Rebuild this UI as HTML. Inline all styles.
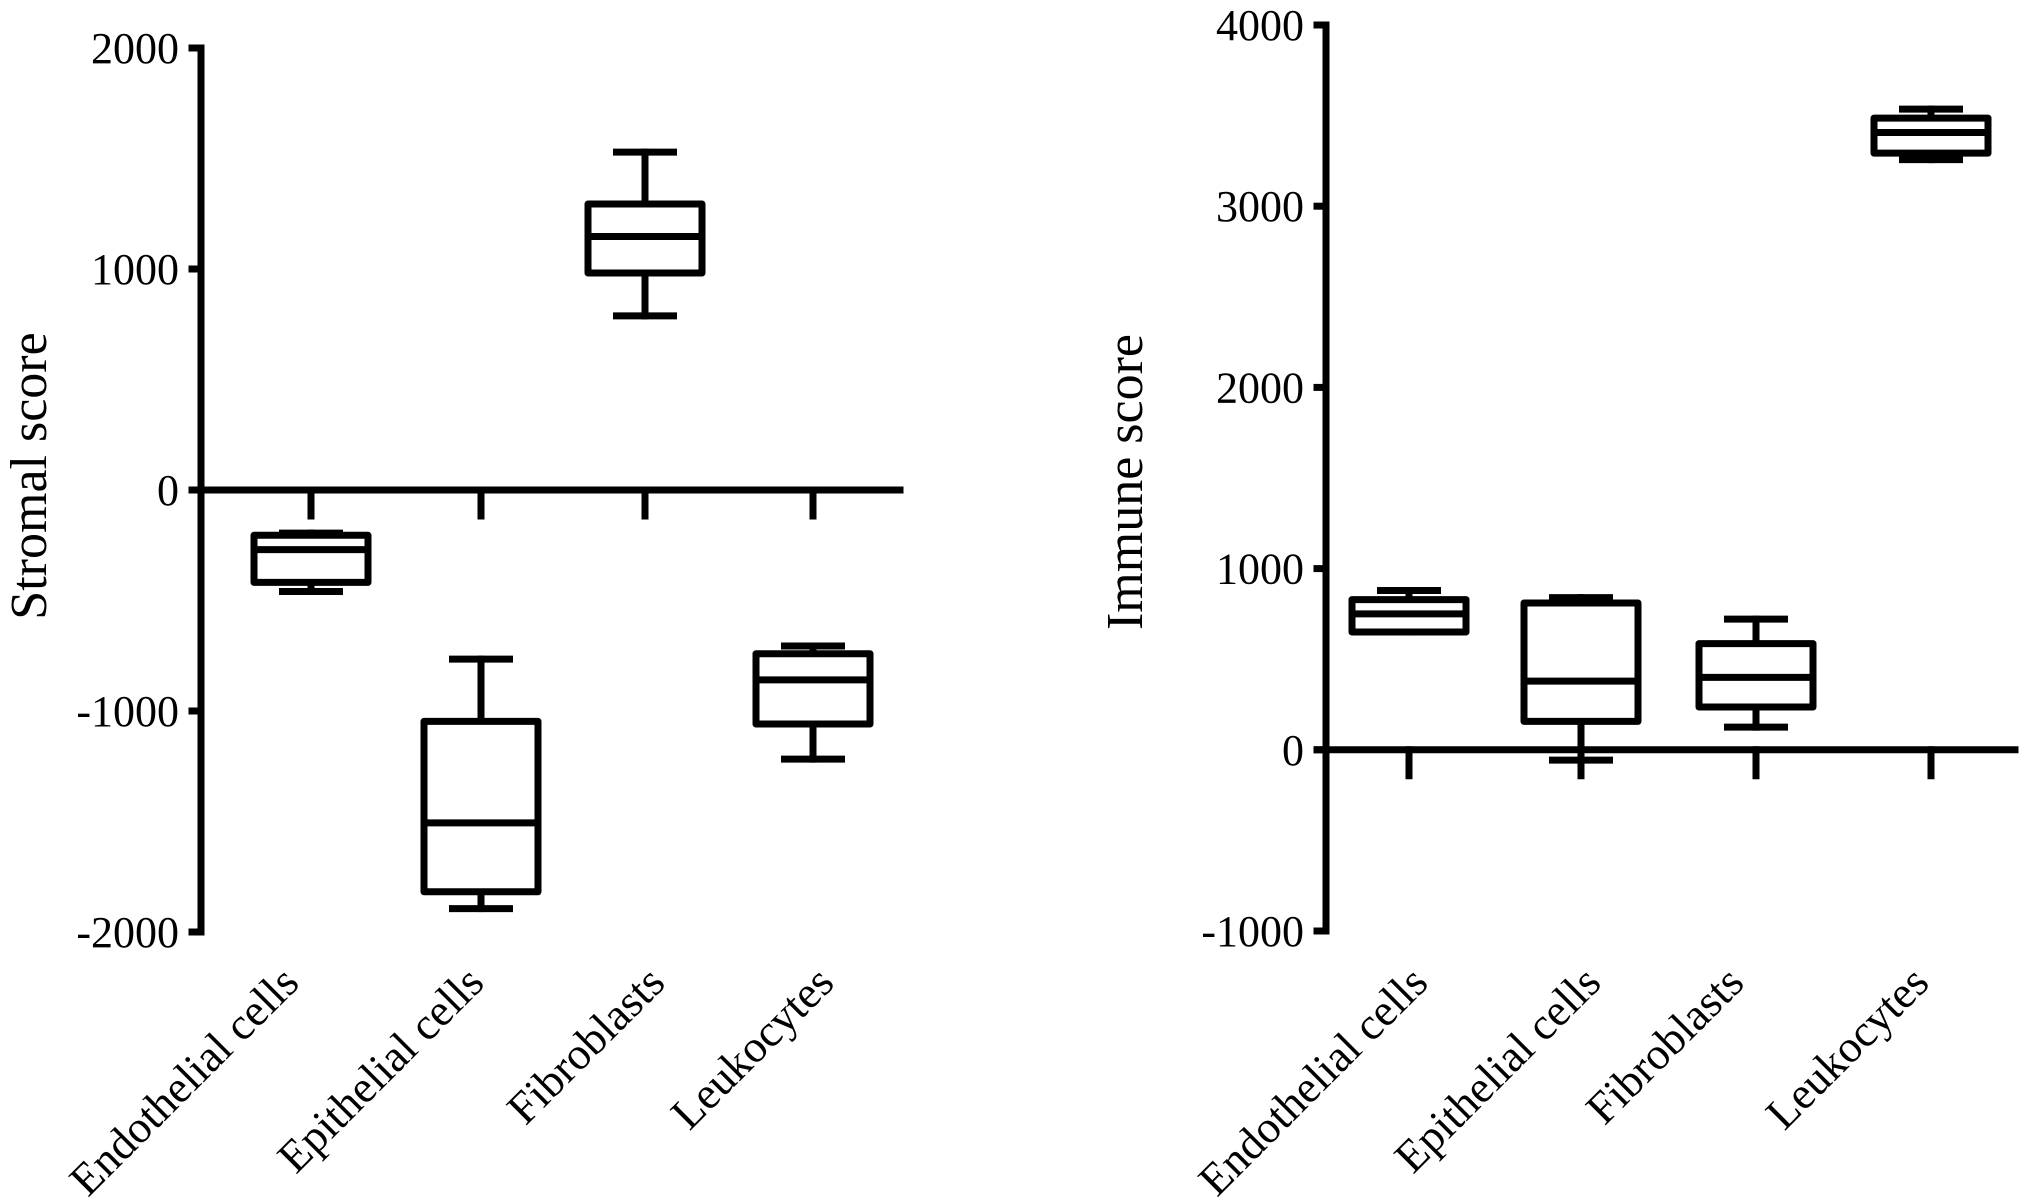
<!DOCTYPE html>
<html><head><meta charset="utf-8"><style>
html,body{margin:0;padding:0;background:#fff;}
svg{display:block;}
text{font-family:"Liberation Serif",serif;fill:#000;}
</style></head><body>
<svg id="chart" width="2031" height="1202" viewBox="0 0 2031 1202" xmlns="http://www.w3.org/2000/svg"></svg>
<script>
const categories = ["Endothelial cells","Epithelial cells","Fibroblasts","Leukocytes"];
// Stromal score [min, q1, median, q3, max]
const stromalMin = [-459, -1894, 788, -1218];
const stromalQ1 = [-418, -1818, 982, -1059];
const stromalMedian = [-270, -1506, 1147, -859];
const stromalQ3 = [-205, -1047, 1294, -741];
const stromalMax = [-195, -765, 1529, -706];
const stromalTicks = [2000, 1000, 0, -1000, -2000];
// Immune score
const immuneMin = [650, -57, 125, 3257];
const immuneQ1 = [650, 157, 236, 3293];
const immuneMedian = [750, 379, 400, 3407];
const immuneQ3 = [829, 810, 586, 3486];
const immuneMax = [879, 840, 721, 3536];
const immuneTicks = [4000, 3000, 2000, 1000, 0, -1000];

const NS = "http://www.w3.org/2000/svg";
const svg = document.getElementById("chart");
function mk(tag, attrs, parent){
  const e = document.createElementNS(NS, tag);
  for (const k in attrs) e.setAttribute(k, attrs[k]);
  (parent||svg).appendChild(e);
  return e;
}
function line(x1,y1,x2,y2,w,parent){
  return mk("line",{x1:x1,y1:y1,x2:x2,y2:y2,stroke:"#000","stroke-width":w,"stroke-linecap":"square"},parent);
}
const SW = 7;
function drawPanel(cfg){
  const g = mk("g",{});
  
  
  const y = v => cfg.y0 + (v - cfg.vmin) * (cfg.y1 - cfg.y0) / (cfg.vmax - cfg.vmin);
  const ya = line(cfg.ax, y(cfg.vmax), cfg.ax, y(cfg.vmin), SW, g);
  
  
  cfg.ticks.forEach(t=>{
    const tk = line(cfg.ax-9, y(t), cfg.ax, y(t), SW, g);
    
    
    const tl = mk("text",{x:cfg.ax-22,y:y(t)+15,"text-anchor":"end","font-size":44},g);
    tl.textContent = t;
    
    
  });
  const xa = line(cfg.ax-9, y(0), cfg.xend, y(0), SW, g);
  
  
  const tt = mk("text",{x:cfg.titleX,y:cfg.titleY,"text-anchor":"middle","font-size":52,transform:`rotate(-90 ${cfg.titleX} ${cfg.titleY})`},g);
  tt.textContent = cfg.title;
  
  
  const bw = 114;
  categories.forEach((c,i)=>{
    const cx = cfg.cats[i];
    const ct = line(cx, y(0), cx, y(0)+26, SW, g);
    
    
    const bg = mk("g",{},g);
    
    
    const mn=cfg.d[0][i], q1=cfg.d[1][i], md=cfg.d[2][i], q3=cfg.d[3][i], mx=cfg.d[4][i];
    line(cx, y(mx), cx, y(q3), SW, bg);
    line(cx, y(q1), cx, y(mn), SW, bg);
    line(cx-bw/4, y(mx), cx+bw/4, y(mx), SW, bg);
    line(cx-bw/4, y(mn), cx+bw/4, y(mn), SW, bg);
    mk("rect",{x:cx-bw/2,y:y(q3),width:bw,height:Math.max(1,y(q1)-y(q3)),fill:"#fff",stroke:"#000","stroke-width":SW,"stroke-linejoin":"round"},bg);
    line(cx-bw/2, y(md), cx+bw/2, y(md), SW, bg);
    const lx = cx + cfg.labelShift[i], ly = 985;
    const lb = mk("text",{x:lx,y:ly,"text-anchor":"end","font-size":45,transform:`rotate(-45 ${lx} ${ly})`},g);
    lb.textContent = c;
    
    
  });
}

drawPanel({name:"stromal-score-panel", ax:201, xend:900, vmax:2000, vmin:-2000, y0:932, y1:48,
  ticks:stromalTicks, cats:[311,481,645,813], labelShift:[-10,5,22,23], title:"Stromal score", titleX:46, titleY:476,
  d:[stromalMin,stromalQ1,stromalMedian,stromalQ3,stromalMax]});
drawPanel({name:"immune-score-panel", ax:1326, xend:2015, vmax:4000, vmin:-1000, y0:931, y1:25,
  ticks:immuneTicks, cats:[1409,1581,1756,1931], labelShift:[21,22,-10,0], title:"Immune score", titleX:1142, titleY:482,
  d:[immuneMin,immuneQ1,immuneMedian,immuneQ3,immuneMax]});
</script>
</body></html>
